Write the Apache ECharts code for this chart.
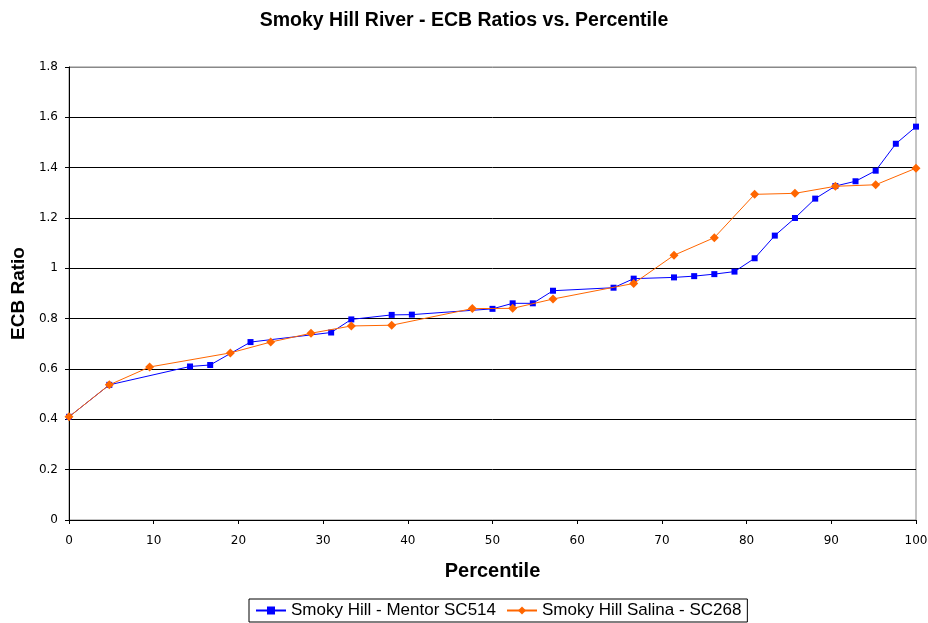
<!DOCTYPE html>
<html>
<head>
<meta charset="utf-8">
<script src="https://cdn.jsdelivr.net/npm/echarts@6/dist/echarts.min.js"></script>
<style>html,body{margin:0;padding:0;background:#fff}#c{width:928px;height:623px}</style>
</head>
<body>
<div id="c"></div>
<script>
var mentorPct = [0, 4.76, 14.29, 16.67, 21.43, 30.95, 33.33, 38.1, 40.48, 50, 52.38, 54.76, 57.14, 64.29, 66.67, 71.43, 73.81, 76.19, 78.57, 80.95, 83.33, 85.71, 88.1, 90.48, 92.86, 95.24, 97.62, 100];
var mentorRatio = [0.41, 0.537, 0.61, 0.616, 0.707, 0.745, 0.797, 0.815, 0.816, 0.839, 0.861, 0.861, 0.911, 0.923, 0.959, 0.964, 0.969, 0.977, 0.987, 1.04, 1.13, 1.2, 1.277, 1.327, 1.346, 1.388, 1.495, 1.563];
var salinaPct = [0, 4.76, 9.52, 19.05, 23.81, 28.57, 33.33, 38.1, 47.62, 52.38, 57.14, 66.67, 71.43, 76.19, 80.95, 85.71, 90.48, 95.24, 100];
var salinaRatio = [0.41, 0.537, 0.608, 0.664, 0.707, 0.742, 0.771, 0.774, 0.84, 0.841, 0.878, 0.94, 1.052, 1.122, 1.294, 1.298, 1.326, 1.332, 1.398];
var xTicks = {min: 0, max: 100, interval: 10};
var yTicks = {min: 0, max: 1.8, interval: 0.2};

function pairs(xs, ys) { return xs.map(function (x, i) { return [x, ys[i]]; }); }

var font = 'Liberation Sans, Arial, sans-serif';
var tickFont = 'DejaVu Sans, sans-serif';
var chart = echarts.init(document.getElementById('c'), null, {renderer: 'canvas'});
var gridColors = [];
for (var i = 0; i < 9; i++) gridColors.push('#000');
gridColors.push('#888');

chart.setOption({
  animation: false,
  backgroundColor: '#fff',
  title: {
    text: 'Smoky Hill River - ECB Ratios vs. Percentile',
    left: 'center', top: 6,
    textStyle: {fontFamily: font, fontSize: 19.5, fontWeight: 'bold', color: '#000'}
  },
  grid: {left: 69, right: 12, top: 67, bottom: 103, show: true, borderColor: '#888', borderWidth: 1,
    backgroundColor: '#fff', containLabel: false, outerBoundsMode: 'none'},
  legend: {
    bottom: 1, left: 249,
    data: ['Smoky Hill - Mentor SC514', 'Smoky Hill Salina - SC268'],
    itemWidth: 30, itemHeight: 10, itemGap: 10,
    borderColor: '#000', borderWidth: 1, padding: [3, 6, 3, 6],
    textStyle: {fontFamily: font, fontSize: 17, color: '#000'}
  },
  xAxis: {
    type: 'value', min: xTicks.min, max: xTicks.max, interval: xTicks.interval,
    name: 'Percentile', nameLocation: 'middle', nameGap: 41,
    nameTextStyle: {fontFamily: font, fontSize: 20, fontWeight: 'bold', color: '#000'},
    axisLine: {lineStyle: {color: '#000', width: 1}},
    axisTick: {show: true, length: 4, lineStyle: {color: '#000'}},
    axisLabel: {fontFamily: tickFont, fontSize: 12, color: '#000', margin: 15},
    splitLine: {show: false}
  },
  yAxis: {
    type: 'value', min: yTicks.min, max: yTicks.max, interval: yTicks.interval,
    name: 'ECB Ratio', nameLocation: 'middle', nameGap: 40, nameRotate: 90,
    nameTextStyle: {fontFamily: font, fontSize: 19, fontWeight: 'bold', color: '#000'},
    axisLine: {show: true, lineStyle: {color: '#000', width: 1}},
    axisTick: {show: true, length: 4, lineStyle: {color: '#000'}},
    axisLabel: {fontFamily: tickFont, fontSize: 12, color: '#000', margin: 11,
      formatter: function (v) { return String(Math.round(v * 10) / 10); }},
    splitLine: {show: true, lineStyle: {color: gridColors, width: 1}}
  },
  series: [
    {
      name: 'Smoky Hill - Mentor SC514', type: 'line',
      data: pairs(mentorPct, mentorRatio),
      symbol: 'rect', symbolSize: 6,
      lineStyle: {color: '#0000FF', width: 1},
      itemStyle: {color: '#0000FF'}, z: 3
    },
    {
      name: 'Smoky Hill Salina - SC268', type: 'line',
      data: pairs(salinaPct, salinaRatio),
      symbol: 'diamond', symbolSize: 9,
      lineStyle: {color: '#FF6600', width: 1},
      itemStyle: {color: '#FF6600'}, z: 4
    }
  ]
});
</script>
</body>
</html>
